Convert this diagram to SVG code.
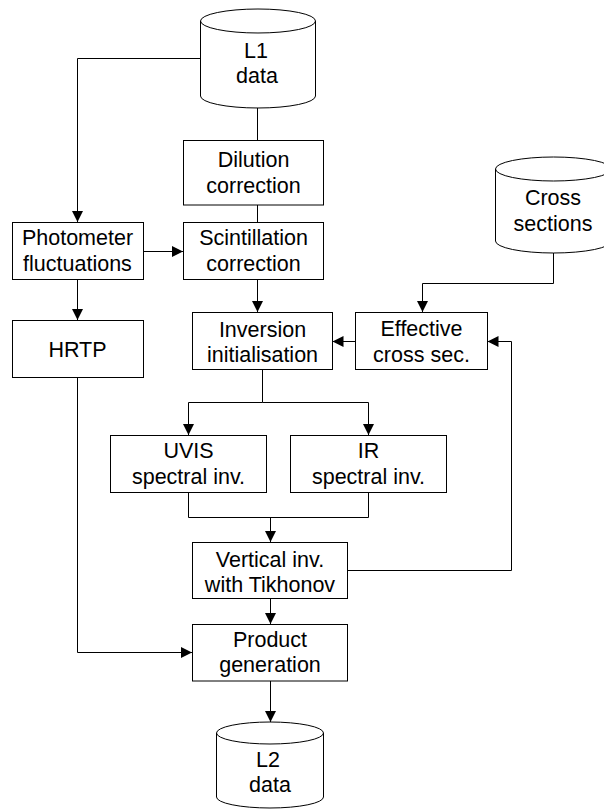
<svg xmlns="http://www.w3.org/2000/svg" width="604" height="809" viewBox="0 0 604 809">
<style>
.box{fill:#fff;stroke:#000;stroke-width:1}
.cyl{fill:#fff;stroke:#000;stroke-width:1}
.cn{fill:none;stroke:#000;stroke-width:1}
text{font-family:"Liberation Sans",Arial,sans-serif;font-size:21.5px;fill:#000;text-anchor:middle}
</style>
<defs>
<marker id="ah" markerUnits="userSpaceOnUse" markerWidth="12" markerHeight="12" viewBox="0 0 12 12" refX="11" refY="6" orient="auto">
<path d="M0,0.5 L11,6 L0,11.5 Z" fill="#000"/>
</marker>
</defs>
<rect width="604" height="809" fill="#fff"/>
<g id="connectors">
<path class="cn" d="M257.5,108 V140"/>
<path class="cn" d="M200,58.5 H77.5 V222" marker-end="url(#ah)"/>
<path class="cn" d="M257.5,205 V222"/>
<path class="cn" d="M143,251.5 H183" marker-end="url(#ah)"/>
<path class="cn" d="M77.5,279.5 V320" marker-end="url(#ah)"/>
<path class="cn" d="M257.5,279.5 V312" marker-end="url(#ah)"/>
<path class="cn" d="M355.5,341.5 H332.5" marker-end="url(#ah)"/>
<path class="cn" d="M553.5,253 V283.5 H422.5 V312" marker-end="url(#ah)"/>
<path class="cn" d="M262.5,369.5 V402.5"/>
<path class="cn" d="M262.5,402.5 H188.5 V435" marker-end="url(#ah)"/>
<path class="cn" d="M262.5,402.5 H368.5 V435" marker-end="url(#ah)"/>
<path class="cn" d="M188.5,492.5 V517.5 H368.5 V492.5"/>
<path class="cn" d="M270.5,517.5 V542" marker-end="url(#ah)"/>
<path class="cn" d="M347.5,570.5 H511.5 V341.5 H487.5" marker-end="url(#ah)"/>
<path class="cn" d="M270.5,598.5 V624" marker-end="url(#ah)"/>
<path class="cn" d="M77.5,377.5 V652.5 H192" marker-end="url(#ah)"/>
<path class="cn" d="M270.5,681 V722" marker-end="url(#ah)"/>
</g>
<g id="l1data">
<path class="cyl" d="M200.5,21 A57.5,12 0 0 1 315.5,21 V96 A57.5,12 0 0 1 200.5,96 Z"/>
<path class="cn" d="M200.5,21 A57.5,12 0 0 0 315.5,21"/>
<text x="256" y="58">L1</text>
<text x="257" y="83">data</text>
</g>
<g id="dilution">
<rect class="box" x="183.5" y="140.5" width="140" height="64.5"/>
<text x="253.5" y="166.5">Dilution</text>
<text x="253.5" y="192.5">correction</text>
</g>
<g id="scintillation">
<rect class="box" x="183.5" y="222.5" width="140" height="57"/>
<text x="253.5" y="245">Scintillation</text>
<text x="253.5" y="270.5">correction</text>
</g>
<g id="photometer">
<rect class="box" x="12.5" y="222.5" width="131" height="57"/>
<text x="77.5" y="245">Photometer</text>
<text x="77.5" y="271">fluctuations</text>
</g>
<g id="hrtp">
<rect class="box" x="12.5" y="320.5" width="131" height="57"/>
<text x="77.5" y="357">HRTP</text>
</g>
<g id="crosssections">
<path class="cyl" d="M495.5,169 A58,12 0 0 1 611.5,169 V241 A58,12 0 0 1 495.5,241 Z"/>
<path class="cn" d="M495.5,169 A58,12 0 0 0 611.5,169"/>
<text x="553" y="205">Cross</text>
<text x="553" y="231">sections</text>
</g>
<g id="inversion">
<rect class="box" x="192.5" y="312.5" width="140" height="57"/>
<text x="262.5" y="337">Inversion</text>
<text x="262.5" y="362">initialisation</text>
</g>
<g id="effective">
<rect class="box" x="355.5" y="312.5" width="132" height="57"/>
<text x="421.5" y="336">Effective</text>
<text x="421.5" y="362">cross sec.</text>
</g>
<g id="uvis">
<rect class="box" x="110.5" y="435.5" width="156" height="57"/>
<text x="188.5" y="458">UVIS</text>
<text x="188.5" y="484">spectral inv.</text>
</g>
<g id="ir">
<rect class="box" x="290.5" y="435.5" width="156" height="57"/>
<text x="368.5" y="458">IR</text>
<text x="368.5" y="484">spectral inv.</text>
</g>
<g id="vertical">
<rect class="box" x="192.5" y="542.5" width="155" height="56"/>
<text x="270" y="567">Vertical inv.</text>
<text x="270" y="592">with Tikhonov</text>
</g>
<g id="product">
<rect class="box" x="192.5" y="624.5" width="155" height="56.5"/>
<text x="270" y="647">Product</text>
<text x="270" y="672">generation</text>
</g>
<g id="l2data">
<path class="cyl" d="M216.5,733 A53.5,11 0 0 1 323.5,733 V797 A53.5,11 0 0 1 216.5,797 Z"/>
<path class="cn" d="M216.5,733 A53.5,11 0 0 0 323.5,733"/>
<text x="268" y="767">L2</text>
<text x="270" y="792">data</text>
</g>
</svg>
